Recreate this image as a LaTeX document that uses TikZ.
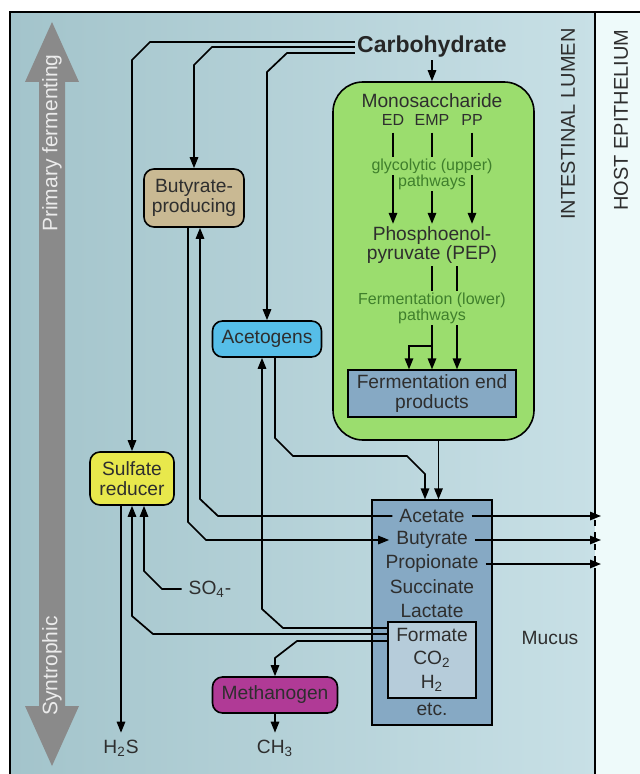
\documentclass[tikz,border=0pt]{standalone}
\usepackage{fontspec}
\setmainfont{Liberation Sans}
\usetikzlibrary{arrows.meta}

\definecolor{lumenL}{HTML}{A3C4CB}
\definecolor{lumenR}{HTML}{C8E0E6}
\definecolor{hostbg}{HTML}{EEFAFA}
\definecolor{glyco}{HTML}{9BDD6E}
\definecolor{glytext}{HTML}{3F7F2C}
\definecolor{prodfill}{HTML}{86A9C4}
\definecolor{gasfill}{HTML}{B6CCDA}
\definecolor{butfill}{HTML}{C9B993}
\definecolor{acefill}{HTML}{56BEE8}
\definecolor{sulffill}{HTML}{E8E84C}
\definecolor{methfill}{HTML}{B03A96}
\definecolor{txt}{HTML}{2E2E2E}
\definecolor{axisgray}{HTML}{8A8A8A}

\begin{document}
\begin{tikzpicture}[x=0.5pt,y=-0.5pt,
    font=\fontsize{9.6}{9.8}\selectfont, text=txt,
    arr/.style={-{Triangle[length=5.5pt,width=4.2pt]}, line width=0.85pt},
    bug/.style={draw, line width=0.8pt, rounded corners=5pt, align=center, inner sep=1pt},
    small/.style={font=\fontsize{8}{8}\selectfont},
    mask/.style={small, text=glytext, fill=glyco, inner sep=0.8pt}]
  \useasboundingbox (0,0) rectangle (640,774);
  % lumen and host
  \fill[white] (0,0) rectangle (640,774);
  \shade[left color=lumenL, right color=lumenR] (10,12) rectangle (595,774);
  \fill[hostbg] (595,12) rectangle (640,774);
  \draw[line width=1.1pt] (10,774) -- (10,12) -- (640,12);
  \draw[line width=1pt] (595,12) -- (595,508);
  \draw[line width=1pt, dash pattern=on 3pt off 3pt] (595,508) -- (595,574);
  \draw[line width=1pt] (595,574) -- (595,774);
  \node[rotate=90, font=\fontsize{10}{12}\selectfont] (lumen) at (568,124) {INTESTINAL LUMEN};
  \node[rotate=90, font=\fontsize{10}{12}\selectfont] (host) at (621,120) {HOST EPITHELIUM};

  % gray axis
  \fill[axisgray] (52,22) -- (79,82) -- (65,82) -- (65,706) -- (79,706) -- (52,766)
      -- (25,706) -- (39,706) -- (39,82) -- (25,82) -- cycle;
  \node[rotate=90, text=white!92!black, font=\fontsize{10.5}{12}\selectfont] (primary) at (52,143) {Primary fermenting};
  \node[rotate=90, text=white!92!black, font=\fontsize{10.5}{12}\selectfont] (syntro) at (52,666) {Syntrophic};

  % carbohydrate and glycolysis box
  \node[font=\bfseries\fontsize{11.5}{13}\selectfont, text=black!85, inner sep=1pt] (carb) at (432,47) {Carbohydrate};
  \node[draw, line width=0.8pt, fill=glyco, rounded corners=15pt,
        minimum width=100.5pt, minimum height=179pt] (green) at (433.5,261) {};
  \node (mono) at (432,101) {Monosaccharide};
  \node[small] (ed) at (393,120) {ED};
  \node[small] (emp) at (432,120) {EMP};
  \node[small] (pp) at (472,120) {PP};
  \node[align=center, inner sep=1pt] (pep) at (432,245) {Phosphoenol-\\pyruvate (PEP)};
  \node[draw, fill=prodfill, line width=0.6pt, minimum width=84pt, minimum height=23.5pt,
        align=center, inner sep=1pt] (endprod) at (432,393.5) {Fermentation end\\products};

  \draw[arr] (ed.south) -- (ed.south |- pep.north);
  \draw[arr] (emp.south) -- (emp.south |- pep.north);
  \draw[arr] (pp.south) -- (pp.south |- pep.north);
  \node[mask] (upper) at (432,166) {glycolytic (upper)};
  \node[mask] (upperb) at (432,182) {pathways};

  \coordinate (fork) at (432,346);
  \draw[arr] (pep.south) -- (endprod.north);
  \draw[arr] ([xshift=12.5pt]pep.south) -- ([xshift=12.5pt]endprod.north);
  \draw[arr] (fork) -| ([xshift=-11.5pt]endprod.north);
  \node[mask] (lower) at (432,300) {Fermentation (lower)};
  \node[mask] (lowerb) at (432,316) {pathways};

  % end products
  \node[draw, fill=prodfill, line width=0.6pt, minimum width=60pt, minimum height=112.5pt] (prod) at (432,612.5) {};
  \node[draw, fill=gasfill, line width=0.6pt, minimum width=44pt, minimum height=38pt] (gas) at (432,660) {};
  \node (acetate) at (432,516) {Acetate};
  \node (butyrate) at (432,540) {Butyrate};
  \node (propionate) at (432,564) {Propionate};
  \node (succinate) at (432,587) {Succinate};
  \node (lactate) at (432,611) {Lactate};
  \node (formate) at (432,635) {Formate};
  \node (co2) at (432,659) {CO\textsubscript{2}};
  \node (h2) at (432,683) {H\textsubscript{2}};
  \node (etc) at (432,709) {etc.};
  \node (mucus) at (550,638) {Mucus};

  % organisms
  \node[bug, fill=butfill, minimum width=50pt, minimum height=29pt] (butp) at (194,198) {Butyrate-\\producing};
  \node[bug, fill=acefill, minimum width=54.5pt, minimum height=18pt] (aceto) at (267,339) {Acetogens};
  \node[bug, fill=sulffill, minimum width=42pt, minimum height=26.5pt] (sulf) at (132,478.5) {Sulfate\\reducer};
  \node[bug, fill=methfill, minimum width=62.5pt, minimum height=18pt] (meth) at (275,695) {Methanogen};
  \node (so4) at (210,589) {SO\textsubscript{4}-};
  \node (h2s) at (121,748) {H\textsubscript{2}S};
  \node (ch3) at (275,748) {CH\textsubscript{3}};

  % carbohydrate feeds
  \draw[arr] ([yshift=2.5pt]carb.west) -- (150,42) -- (132,60) -- (sulf.north);
  \draw[arr] (carb.west) -- (212,47) -- (194,65) -- (butp.north);
  \draw[arr] ([yshift=-3pt]carb.west) -- (287,53) -- (267,72) -- (aceto.north);
  \draw[arr] (carb.south) -- (carb.south |- green.north);
  \draw[arr] ([xshift=2.5pt]green.south) -- ([xshift=2.5pt]green.south |- prod.north);

  % cross feeding
  \draw[arr] ([xshift=4pt]aceto.south) -- (275,438) -- (293,456) -- (407,456) -- (425,474) -- (425,0 |- prod.north);
  \draw[arr] (188,0 |- butp.south) -- (188,522) -- (206,540) -- (butyrate.west);
  \draw[arr] (acetate.west) -- (218,516) -- (200,499) -- (200,0 |- butp.south);
  \draw[arr] ([yshift=16pt]gas.west) -- (283,628) -- (262,609) -- (262,0 |- aceto.south);
  \draw[arr] ([yshift=13pt]gas.west) -- (153,634) -- (132,616) -- (sulf.south);
  \draw[arr] ([yshift=9.5pt]gas.west) -- (297,641) -- (275,658) -- (meth.north);
  \draw[arr] (so4.west) -- (162,589) -- (144,571) -- (144,0 |- sulf.south);
  \draw[arr] (121,0 |- sulf.south) -- (h2s.north);
  \draw[arr] (meth.south) -- (ch3.north);

  % to host
  \coordinate (hA) at (601,516);
  \coordinate (hB) at (601,540);
  \coordinate (hP) at (601,564);
  \draw[arr] (acetate.east) -- (hA);
  \draw[arr] (butyrate.east) -- (hB);
  \draw[arr] (propionate.east) -- (hP);
\end{tikzpicture}
\end{document}
